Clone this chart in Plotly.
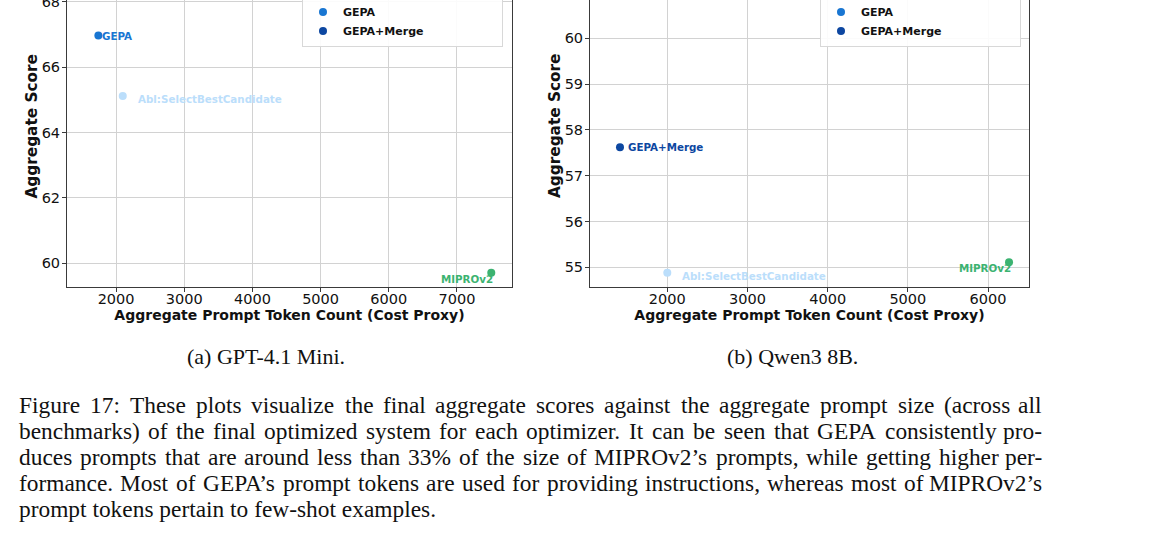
import plotly.graph_objects as go

# ---------------- data ----------------
methods = ["MIPROv2", "Abl:SelectBestCandidate", "GEPA", "GEPA+Merge"]
method_colors = ["#3cb371", "#bbdefb", "#1976d2", "#0d47a1"]

# (a) GPT-4.1 Mini  (GEPA+Merge lies above the visible (cropped) area)
gpt_tokens = [7504, 2098, 1740, 2300]
gpt_scores = [59.71, 65.12, 66.97, 68.69]

# (b) Qwen3 8B  (GEPA lies above the visible (cropped) area)
qwen_tokens = [6262, 2000, 2400, 1410]
qwen_scores = [55.11, 54.88, 61.28, 57.62]

xticks_a = [2000, 3000, 4000, 5000, 6000, 7000]
yticks_a = [60, 62, 64, 66, 68]
xticks_b = [2000, 3000, 4000, 5000, 6000]
yticks_b = [55, 56, 57, 58, 59, 60]

x_title = "Aggregate Prompt Token Count (Cost Proxy)"
y_title = "Aggregate Score"
subcaption_a = "(a) GPT-4.1 Mini."
subcaption_b = "(b) Qwen3 8B."
caption_lines = [
    "Figure 17: These plots visualize the final aggregate scores against the aggregate prompt size (across all",
    "benchmarks) of the final optimized system for each optimizer. It can be seen that GEPA consistently pro-",
    "duces prompts that are around less than 33% of the size of MIPROv2\u2019s prompts, while getting higher per-",
    "formance. Most of GEPA\u2019s prompt tokens are used for providing instructions, whereas most of MIPROv2\u2019s",
    "prompt tokens pertain to few-shot examples.",
]

# ---------------- layout geometry ----------------
W, H = 1164, 552
FONT = "DejaVu Sans"
SERIF = "Liberation Serif"
SPINE = "#3a3a3a"
GRID = "#d2d2d2"
TXT = "#111111"


def px_x(p):
    return p / W


def px_y(p):
    return 1 - p / H


dom_a = [px_x(67), px_x(512)]
dom_b = [px_x(590), px_x(1029)]
dom_y = [px_y(287), 1.0]

range_xa = [1280, 7808]
range_ya = [59.274, 68.06]
range_xb = [1036, 6511]
range_yb = [54.570, 60.836]

# label offsets (style): (xanchor, xshift, yshift)
label_style_a = {
    "MIPROv2": ("right", 3, -6),
    "Abl:SelectBestCandidate": ("left", 14, -3),
    "GEPA": ("left", 3, 0),
    "GEPA+Merge": ("left", 7, 0),
}
label_style_b = {
    "MIPROv2": ("right", 3, -6),
    "Abl:SelectBestCandidate": ("left", 14, -3),
    "GEPA": ("left", 7, 0),
    "GEPA+Merge": ("left", 7, 0),
}

fig = go.Figure()
annotations = []


def add_panel(tokens, scores, xa, ya, legend_id, styles, yr):
    for m, c, t, s in zip(methods, method_colors, tokens, scores):
        fig.add_trace(go.Scatter(
            x=[t], y=[s], mode="markers", name=m,
            marker=dict(color=c, size=8, line=dict(width=0)),
            xaxis=xa, yaxis=ya, legend=legend_id, showlegend=True,
            hoverinfo="x+y+name",
        ))
        if yr[0] <= s <= yr[1]:
            anc, xs, ys = styles[m]
            annotations.append(dict(
                x=t, y=s, xref=xa, yref=ya, text=m, showarrow=False,
                xanchor=anc, yanchor="middle", xshift=xs, yshift=ys, borderpad=0,
                font=dict(family=FONT, size=10.3, color=c, weight="bold"),
            ))


add_panel(gpt_tokens, gpt_scores, "x", "y", "legend", label_style_a, range_ya)
add_panel(qwen_tokens, qwen_scores, "x2", "y2", "legend2", label_style_b, range_yb)

axis_common = dict(
    showgrid=True, gridcolor=GRID, gridwidth=1,
    showline=True, linecolor=SPINE, linewidth=1,
    ticks="outside", ticklen=4, tickcolor=SPINE, tickwidth=1,
    tickfont=dict(family=FONT, size=14.5, color=TXT),
    zeroline=False, ticklabeloverflow="allow",
)
xtitle = dict(text=x_title, font=dict(family=FONT, size=14, color=TXT, weight="bold"), standoff=2)

fig.update_layout(
    xaxis=dict(domain=dom_a, range=range_xa, tickvals=xticks_a, anchor="y",
               mirror=False, title=xtitle, ticklabelstandoff=-5, **axis_common),
    yaxis=dict(domain=dom_y, range=range_ya, tickvals=yticks_a, anchor="x",
               mirror=True, ticklabelstandoff=-1, **axis_common),
    xaxis2=dict(domain=dom_b, range=range_xb, tickvals=xticks_b, anchor="y2",
                mirror=False, title=xtitle, ticklabelstandoff=-5, **axis_common),
    yaxis2=dict(domain=dom_y, range=range_yb, tickvals=yticks_b, anchor="x2",
                mirror=True, ticklabelstandoff=-1, **axis_common),
)

# y-axis titles (the real axes extend above the cropped top edge, so the
# titles are centred on the full, partly hidden axes)
for cx in (32, 555.5):
    annotations.append(dict(
        x=px_x(cx), y=px_y(126.5), xref="paper", yref="paper", text=y_title,
        showarrow=False, textangle=-90, xanchor="center", yanchor="middle",
        font=dict(family=FONT, size=15.3, color=TXT, weight="bold"),
    ))

legend_common = dict(
    xanchor="right", yanchor="bottom", y=px_y(46.5),
    bgcolor="rgba(255,255,255,0.9)", bordercolor="#d8d8d8", borderwidth=1,
    font=dict(family=FONT, size=11, color=TXT, weight="bold"),
    tracegroupgap=0,
)
fig.update_layout(
    legend=dict(x=px_x(503), **legend_common),
    legend2=dict(x=px_x(1021), **legend_common),
)

# ---------------- captions ----------------
annotations.append(dict(x=px_x(266), y=px_y(356), xref="paper", yref="paper",
                        text=subcaption_a, showarrow=False, xanchor="center", yanchor="middle",
                        font=dict(family=SERIF, size=22, color=TXT)))
annotations.append(dict(x=px_x(792), y=px_y(356), xref="paper", yref="paper",
                        text=subcaption_b, showarrow=False, xanchor="center", yanchor="middle",
                        font=dict(family=SERIF, size=22, color=TXT)))

# Times-metric advance widths (1/1000 em) used to justify the caption lines
TW = {" ": 250, "!": 333, "%": 833, "(": 333, ")": 333, ",": 250, "-": 333, ".": 250,
      ":": 278, "+": 564, "\u2019": 333, "'": 333,
      "A": 722, "B": 667, "C": 667, "D": 722, "E": 611, "F": 556, "G": 722, "H": 722,
      "I": 333, "J": 389, "K": 722, "L": 611, "M": 889, "N": 722, "O": 722, "P": 556,
      "Q": 722, "R": 667, "S": 556, "T": 611, "U": 722, "V": 722, "W": 944, "X": 722,
      "Y": 722, "Z": 611,
      "a": 444, "b": 500, "c": 444, "d": 500, "e": 444, "f": 333, "g": 500, "h": 500,
      "i": 278, "j": 278, "k": 500, "l": 278, "m": 778, "n": 500, "o": 500, "p": 500,
      "q": 500, "r": 333, "s": 389, "t": 278, "u": 500, "v": 500, "w": 722, "x": 500,
      "y": 500, "z": 444}
KERN = {("P", "A"): -92, ("A", "\u2019"): -111, ("R", "O"): -40, ("r", "."): -55}


def word_w(word, size):
    w = 0
    i = 0
    while i < len(word):
        if word[i:i + 2] == "fi":
            w += 556
            i += 2
            continue
        w += TW.get(word[i], 500)
        if i + 1 < len(word):
            w += KERN.get((word[i], word[i + 1]), 0)
        i += 1
    return w * size / 1000.0


CAP_SIZE = 23.4
CAP_L, CAP_R = 18, 1043
line_y = [405, 431, 457, 483, 509]
for li, (ly, txt) in enumerate(zip(line_y, caption_lines)):
    last = li == len(caption_lines) - 1
    if last:
        annotations.append(dict(x=px_x(CAP_L), y=px_y(ly), xref="paper", yref="paper",
                                text=txt, showarrow=False, xanchor="left", yanchor="middle",
                                borderpad=0, font=dict(family=SERIF, size=CAP_SIZE, color=TXT)))
        continue
    words = txt.split(" ")
    widths = [word_w(w, CAP_SIZE) for w in words]
    gap = (CAP_R - CAP_L - sum(widths)) / (len(words) - 1)
    xpos = CAP_L
    for wi, (w, ww) in enumerate(zip(words, widths)):
        if wi == len(words) - 1:
            annotations.append(dict(x=px_x(CAP_R), y=px_y(ly), xref="paper", yref="paper",
                                    text=w, showarrow=False, xanchor="right", yanchor="middle",
                                    borderpad=0, font=dict(family=SERIF, size=CAP_SIZE, color=TXT)))
        else:
            annotations.append(dict(x=px_x(xpos), y=px_y(ly), xref="paper", yref="paper",
                                    text=w, showarrow=False, xanchor="left", yanchor="middle",
                                    borderpad=0, font=dict(family=SERIF, size=CAP_SIZE, color=TXT)))
        xpos += ww + gap

fig.update_layout(
    annotations=annotations,
    width=W, height=H,
    margin=dict(l=0, r=0, t=0, b=0, pad=0, autoexpand=False),
    paper_bgcolor="white", plot_bgcolor="white",
)

fig.write_html("out.html")
